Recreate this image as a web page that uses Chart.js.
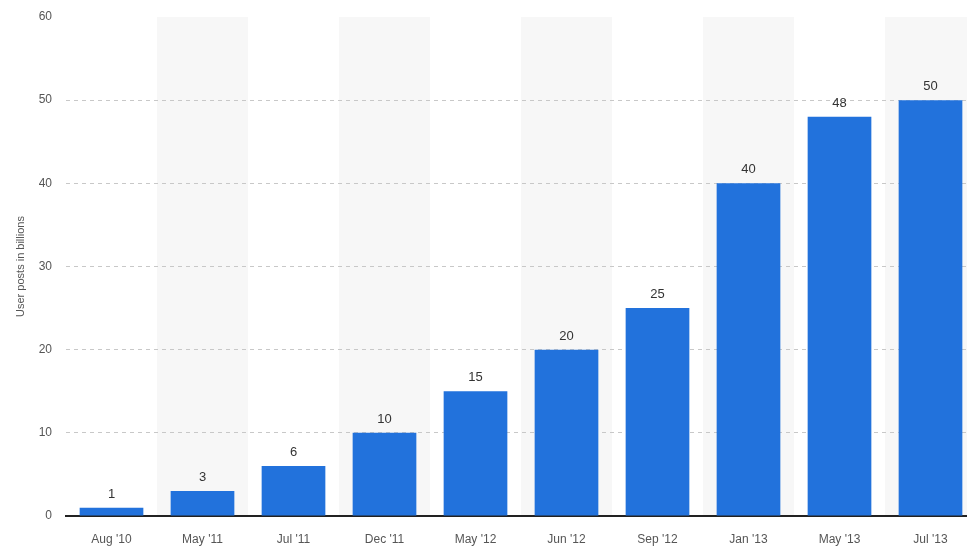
<!DOCTYPE html>
<html>
<head>
<meta charset="utf-8">
<script src="https://cdn.jsdelivr.net/npm/chart.js@4.4.1/dist/chart.umd.min.js"></script>
<style>
  html, body { margin: 0; padding: 0; background: #fff; overflow: hidden; }
  #wrap { width: 976px; height: 548px; }
</style>
</head>
<body>
<div id="wrap"><canvas id="barChart" width="976" height="548"></canvas></div>
<script>
var months = ["Aug '10", "May '11", "Jul '11", "Dec '11", "May '12", "Jun '12", "Sep '12", "Jan '13", "May '13", "Jul '13"];
var posts = [1, 3, 6, 10, 15, 20, 25, 40, 48, 50];
var yTicks = [0, 10, 20, 30, 40, 50, 60];

// shade every other category column in light grey
var columnBands = {
    id: 'columnBands',
    beforeDraw: function (chart) {
        var x = chart.scales.x;
        var area = chart.chartArea;
        var ctx = chart.ctx;
        var step = (area.right - area.left) / months.length;
        ctx.save();
        ctx.fillStyle = '#f7f7f7';
        for (var i = 1; i < months.length; i += 2) {
            var cx = x.getPixelForValue(i);
            ctx.fillRect(cx - step / 2, area.top, step, area.bottom - area.top);
        }
        ctx.restore();
    }
};

// value printed above each bar
var valueLabels = {
    id: 'valueLabels',
    afterDatasetsDraw: function (chart) {
        var ctx = chart.ctx;
        var meta = chart.getDatasetMeta(0);
        ctx.save();
        ctx.font = '13px "Liberation Sans", Arial, sans-serif';
        ctx.fillStyle = '#333';
        ctx.textAlign = 'center';
        ctx.textBaseline = 'bottom';
        meta.data.forEach(function (bar, i) {
            ctx.fillText(String(posts[i]), bar.x, bar.y - 7);
        });
        ctx.restore();
    }
};

var ctx = document.getElementById('barChart').getContext('2d');
var myChart = new Chart(ctx, {
    type: 'bar',
    data: {
        labels: months,
        datasets: [{
            label: 'User posts in billions',
            data: posts,
            backgroundColor: '#2272dc',
            categoryPercentage: 0.7,
            barPercentage: 1.0
        }]
    },
    options: {
        responsive: false,
        animation: false,
        layout: { padding: { top: 17, right: 0, left: 14, bottom: 0 } },
        plugins: {
            legend: { display: false },
            tooltip: { enabled: false }
        },
        scales: {
            x: {
                grid: { display: false },
                border: { display: true, color: '#222', width: 2 },
                ticks: {
                    color: '#555',
                    padding: 8,
                    font: { family: '"Liberation Sans", Arial, sans-serif', size: 12 }
                },
                afterFit: function (scale) { scale.height = 32; }
            },
            y: {
                min: 0,
                max: 60,
                afterBuildTicks: function (scale) {
                    scale.ticks = yTicks.map(function (v) { return { value: v }; });
                },
                grid: {
                    drawTicks: false,
                    lineWidth: 1,
                    color: function (c) {
                        return (c.tick.value === 0 || c.tick.value === 60) ? 'rgba(0,0,0,0)' : '#c8c8c8';
                    }
                },
                border: { display: false, dash: [4, 4] },
                ticks: {
                    color: '#555',
                    padding: 14,
                    font: { family: '"Liberation Sans", Arial, sans-serif', size: 12 }
                },
                title: {
                    display: true,
                    text: 'User posts in billions',
                    color: '#555',
                    padding: { top: 0, bottom: 6 },
                    font: { family: '"Liberation Sans", Arial, sans-serif', size: 11 }
                },
                afterFit: function (scale) {
                    scale.width = 52;
                    scale.paddingTop = 0;
                    scale.paddingBottom = 0;
                }
            }
        }
    },
    plugins: [columnBands, valueLabels]
});
</script>
</body>
</html>
